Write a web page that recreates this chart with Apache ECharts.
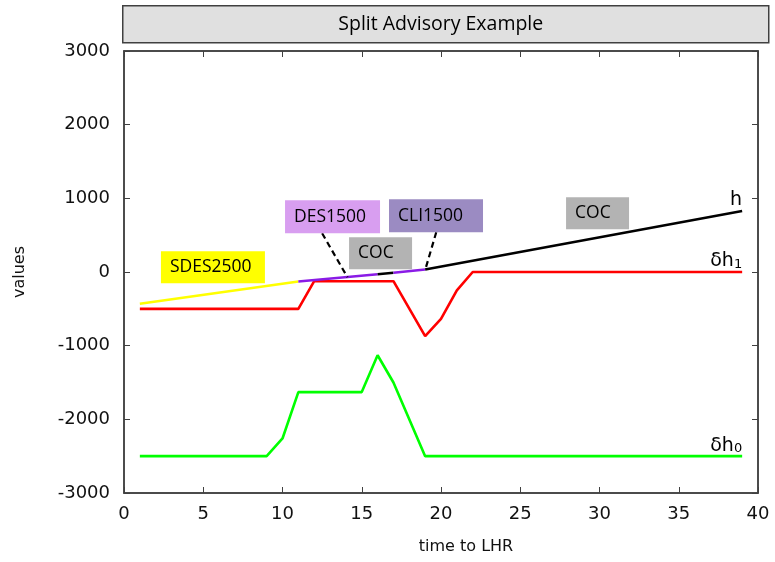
<!DOCTYPE html>
<html>
<head>
<meta charset="utf-8">
<script src="https://cdn.jsdelivr.net/npm/echarts@6/dist/echarts.min.js"></script>
<style>html,body{margin:0;padding:0;background:#fff;}#c{width:775px;height:562px;}</style>
</head>
<body>
<div id="c"></div>
<script>
// ---- data ----
const titleText = 'Split Advisory Example';
const xName = 'time to LHR';
const yName = 'values';
const xMin = 0, xMax = 40, xStep = 5;
const yMin = -3000, yMax = 3000, yStep = 1000;

// h (own altitude trajectory), vertices
const hT = [1, 11, 16, 17, 19, 39];
const hV = [-430, -128, -30, -10, 35, 828];
// delta h1
const dh1T = [1, 11, 12, 17, 19, 20, 21, 22, 39];
const dh1V = [-500, -500, -125, -125, -870, -635, -250, 0, 0];
// delta h0
const dh0T = [1, 9, 10, 11, 15, 16, 17, 19, 39];
const dh0V = [-2500, -2500, -2260, -1630, -1630, -1130, -1500, -2500, -2500];

// advisory annotations (anchor = box left / vertical middle, in data units)
const advText = ['SDES2500', 'DES1500', 'COC', 'CLI1500', 'COC'];
const advX = [2.33, 10.16, 14.2, 16.72, 27.89];
const advY = [64, 749, 254, 763, 797];
// pointer leaders
const ptrDES_T = [12.5, 14.1], ptrDES_V = [525, -72];
const ptrCLI_T = [19.7, 19.05], ptrCLI_V = [539, 64];
// end tags
const tagText = ['h', 'δh1', 'δh0'];
const tagV = [828, 0, -2500];
const tagT = [39, 39, 39];

// ---- styles ----
const hSegColors = ['#ffff00', '#8a1be6', '#000000', '#8a1be6', '#000000'];
const advColors = ['#ffff00', '#d89ef0', '#b3b3b3', '#9b8bc2', '#b3b3b3'];
const advW = [104, 95, 63, 94, 63];
const advH = [32, 33, 32, 33, 32];

const zip = (a, b) => a.map((v, i) => [v, b[i]]);
const LW = 2.6;
const series = [];
series.push({type:'line', data: zip(dh0T, dh0V), symbol:'none', lineStyle:{color:'#00ff00', width:LW}, z:2});
series.push({type:'line', data: zip(dh1T, dh1V), symbol:'none', lineStyle:{color:'#ff0000', width:LW}, z:2});
for (let i = 0; i < hT.length - 1; i++) {
  series.push({type:'line', data: [[hT[i], hV[i]], [hT[i+1], hV[i+1]]], symbol:'none',
    lineStyle:{color: hSegColors[i], width:LW}, z:3});
}
series.push({type:'line', data: zip(ptrDES_T, ptrDES_V), symbol:'none', lineStyle:{color:'#000', width:2.2, type:[6,4]}, z:3});
series.push({type:'line', data: zip(ptrCLI_T, ptrCLI_V), symbol:'none', lineStyle:{color:'#000', width:2.2, type:[6,4]}, z:3});

series.push({
  type:'scatter', symbolSize:0, z:5, silent:true, itemStyle:{opacity:1},
  data: advText.map((t, i) => ({
    value:[advX[i], advY[i]], name:t,
    label:{
      show:true, position:'inside', align:'left', verticalAlign:'middle', opacity:1,
      formatter:t, color:'#000', fontFamily:'Open Sans', fontSize:17.5,
      backgroundColor:advColors[i], width:advW[i]-9, height:advH[i], lineHeight:advH[i],
      padding:[0,0,0,9]
    }
  }))
});
series.push({
  type:'scatter', symbolSize:0, z:5, silent:true, itemStyle:{opacity:1},
  data: tagText.map((t, i) => ({
    value:[tagT[i], tagV[i]],
    label:{
      show:true, position:'top', align:'right', distance:1, opacity:1,
      formatter: t.length > 1 ? '{a|' + t.slice(0, -1) + '}{s|' + t.slice(-1) + '}' : '{a|' + t + '}',
      rich:{
        a:{fontFamily:'DejaVu Sans', fontSize:19, color:'#000', lineHeight:26, verticalAlign:'bottom'},
        s:{fontFamily:'DejaVu Sans', fontSize:13, color:'#000', lineHeight:13, verticalAlign:'bottom'}
      }
    }
  }))
});

const axLine = {show:true, onZero:false, lineStyle:{color:'#404040', width:1.5}};
const tick = {show:true, inside:true, length:6, lineStyle:{color:'#404040', width:1}};
const plain = v => String(v);
const option = {
  animation:false,
  backgroundColor:'#fff',
  grid:{left:124, right:17, top:51, bottom:69, show:true, borderColor:'#404040', borderWidth:1.5},
  xAxis:[{
    type:'value', min:xMin, max:xMax, interval:xStep, position:'bottom',
    axisLine:axLine, axisTick:tick, splitLine:{show:false},
    axisLabel:{fontFamily:'DejaVu Sans', fontSize:18, color:'#111', margin:12, formatter:plain},
    name:xName, nameLocation:'middle', nameGap:46,
    nameTextStyle:{fontFamily:'DejaVu Sans', fontSize:16, color:'#111', padding:[0,0,0,50]}
  },{
    type:'value', min:xMin, max:xMax, interval:xStep, position:'top',
    axisLine:axLine, axisTick:tick, axisLabel:{show:false}, splitLine:{show:false}
  }],
  yAxis:[{
    type:'value', min:yMin, max:yMax, interval:yStep, position:'left',
    axisLine:axLine, axisTick:tick, splitLine:{show:false},
    axisLabel:{fontFamily:'DejaVu Sans', fontSize:18, color:'#111', margin:14, formatter:plain},
    name:yName, nameLocation:'middle', nameGap:96, nameRotate:90,
    nameTextStyle:{fontFamily:'DejaVu Sans', fontSize:16, color:'#111'}
  },{
    type:'value', min:yMin, max:yMax, interval:yStep, position:'right',
    axisLine:axLine, axisTick:tick, axisLabel:{show:false}, splitLine:{show:false}
  }],
  graphic:[{
    type:'group', left:122, top:5,
    children:[
      {type:'rect', shape:{x:0, y:0, width:646, height:37}, style:{fill:'#e0e0e0', stroke:'#404040', lineWidth:1.5}},
      {type:'text', x:318, y:19, style:{text:titleText, fontFamily:'Open Sans', fontSize:19.5, fill:'#000', align:'center', verticalAlign:'middle'}}
    ]
  }],
  series: series
};
echarts.init(document.getElementById('c')).setOption(option);
</script>
</body>
</html>
